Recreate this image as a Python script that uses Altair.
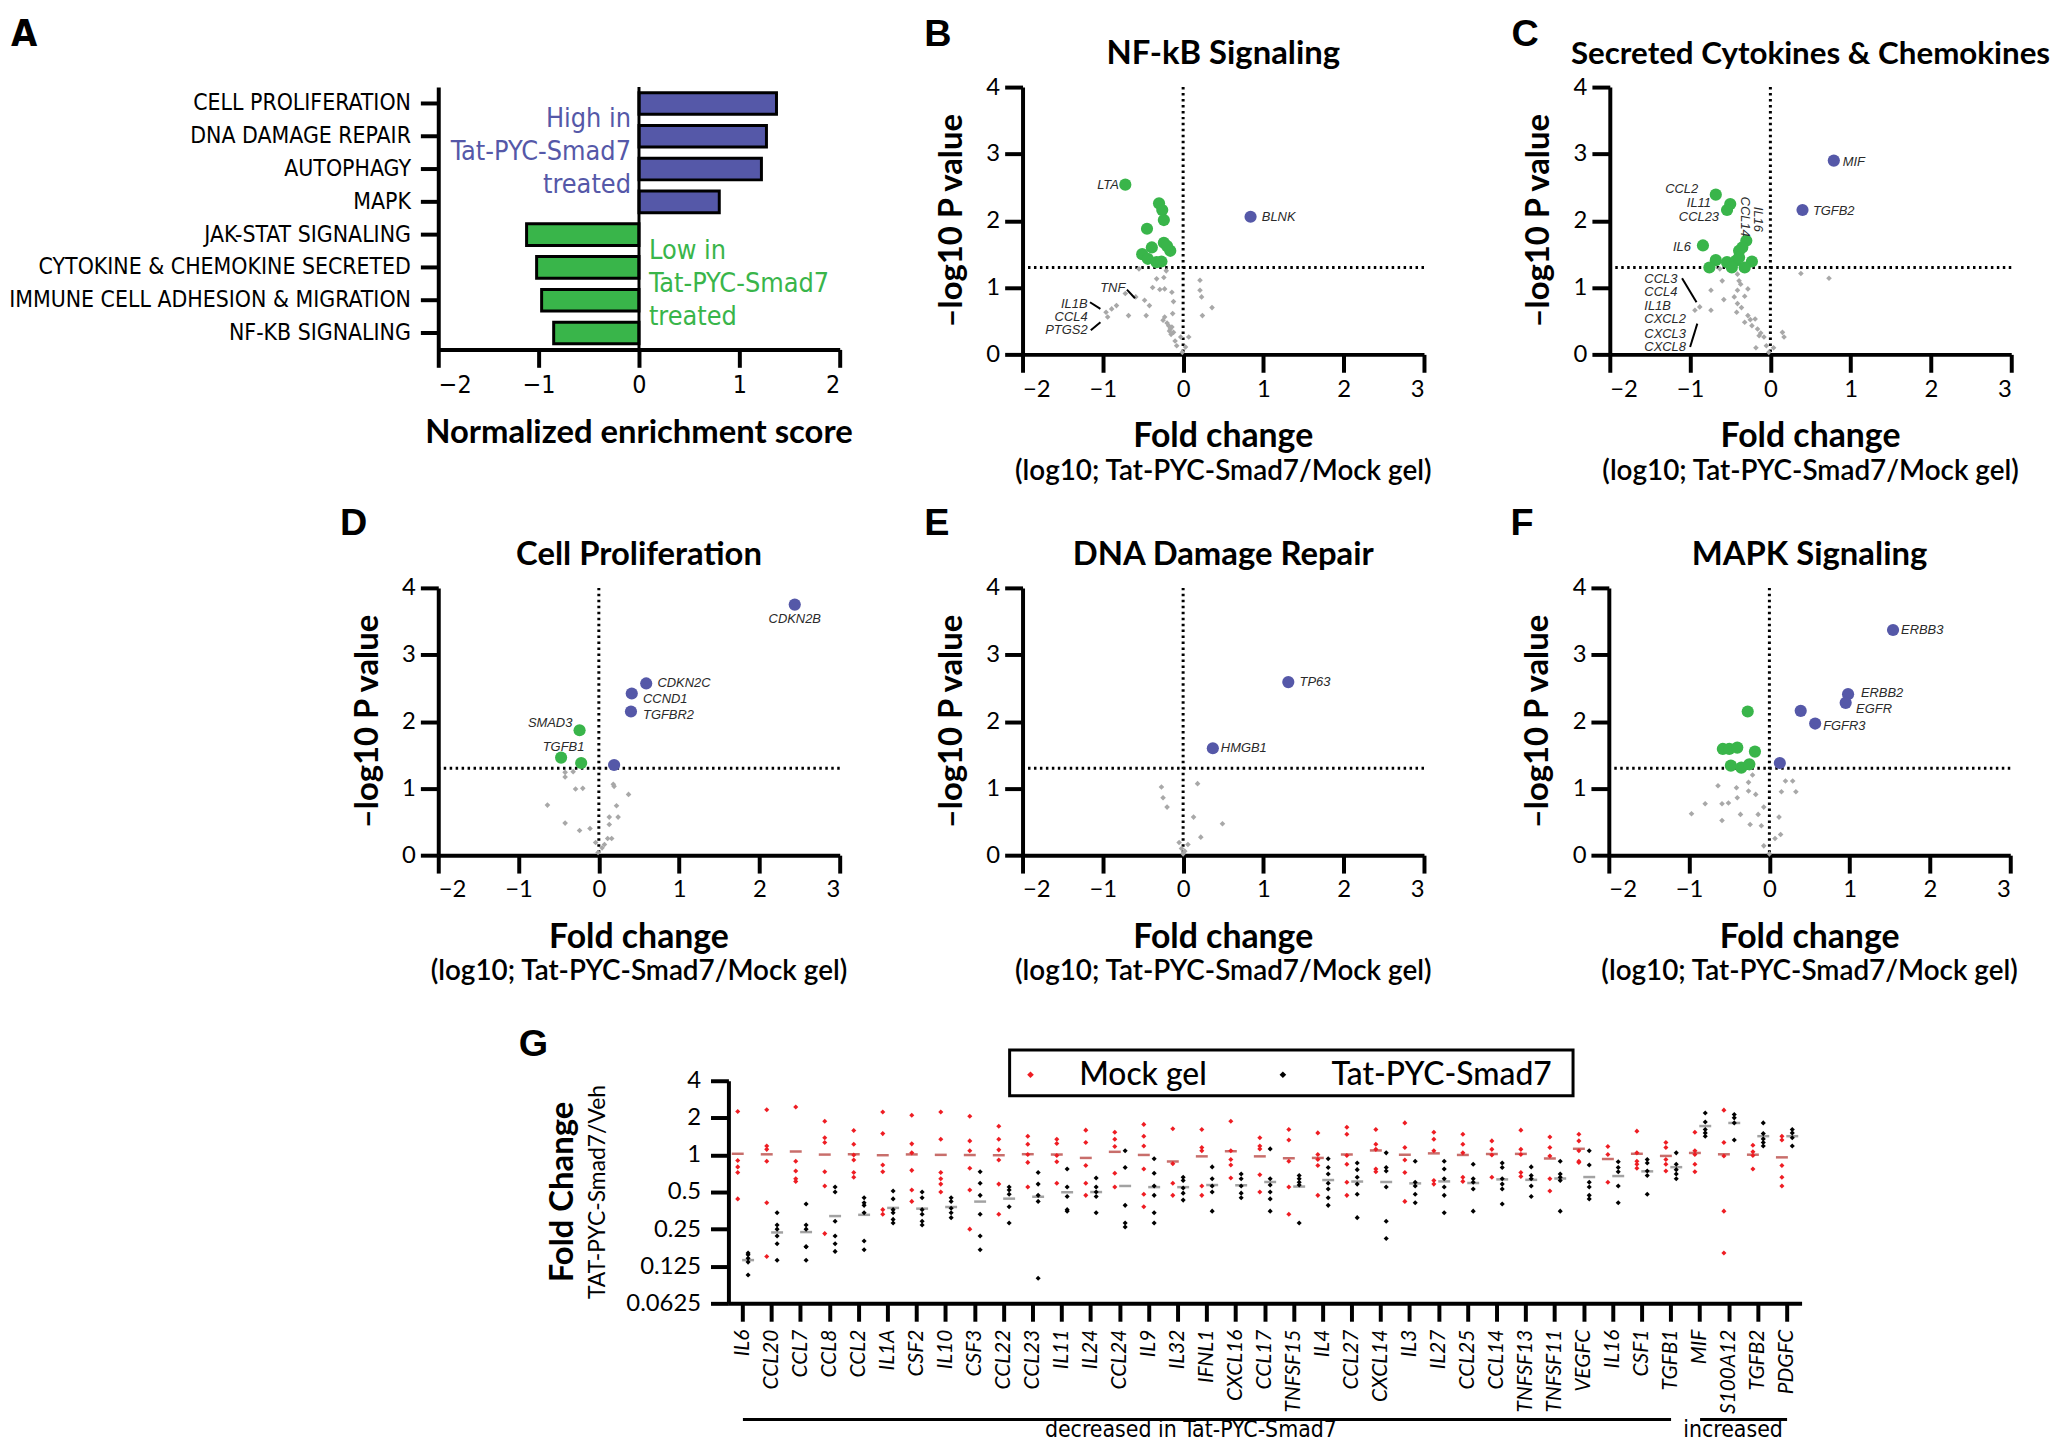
import altair as alt
import pandas as pd

FONT = "Lato"
NARROW = "Liberation Sans Narrow, Arial Narrow, DejaVu Sans Condensed, sans-serif"
ITAL = "Liberation Sans"
LETTER = "Liberation Sans"
BLUE = "#5558a8"
GREEN = "#39b54a"
GRAY = "#a8a8a8"
RED = "#ee1d23"

# ---------------- Panel A data ----------------
a_pathways = ["CELL PROLIFERATION", "DNA DAMAGE REPAIR", "AUTOPHAGY", "MAPK",
              "JAK-STAT SIGNALING", "CYTOKINE & CHEMOKINE SECRETED",
              "IMMUNE CELL ADHESION & MIGRATION", "NF-KB SIGNALING"]
a_nes = [1.37, 1.27, 1.22, 0.80, -1.12, -1.02, -0.97, -0.85]
a_direction = ["up", "up", "up", "up", "down", "down", "down", "down"]
a_ticks = [-2, -1, 0, 1, 2]
a_high_text = ["High in", "Tat-PYC-Smad7", "treated"]
a_high_rows = ["CELL PROLIFERATION", "DNA DAMAGE REPAIR", "AUTOPHAGY"]
a_low_text = ["Low in", "Tat-PYC-Smad7", "treated"]
a_low_rows = ["JAK-STAT SIGNALING", "CYTOKINE & CHEMOKINE SECRETED", "IMMUNE CELL ADHESION & MIGRATION"]

# ---------------- Volcano data (fold change log10, -log10 p) ----------------
vol_x_ticks = [-2, -1, 0, 1, 2, 3]
vol_y_ticks = [0, 1, 2, 3, 4]
sig_line = [1.3]
zero_line = [0]

b_gray = [(-0.55, 1.28), (-0.33, 1.13), (-0.24, 1.15), (-0.21, 1.25), (-0.38, 1.0), (-0.29, 0.97),
          (-0.23, 0.98), (-0.14, 0.93), (-0.72, 0.91), (-0.59, 0.86), (-0.48, 0.81), (-0.42, 0.73),
          (-0.46, 0.58), (-0.68, 0.58), (-0.83, 0.73), (-0.89, 0.68), (-0.96, 0.63), (-0.94, 0.56),
          (-0.12, 0.79), (-0.13, 0.61), (-0.23, 0.56), (-0.25, 0.51), (-0.18, 0.43), (-0.16, 0.38),
          (-0.12, 0.33), (-0.14, 0.41), (-0.03, 0.26), (0.07, 0.26), (-0.08, 0.13), (0.03, 0.11),
          (-0.01, 0.03), (0.21, 1.11), (0.21, 0.96), (0.23, 0.86), (0.36, 0.70), (0.24, 0.58),
          (-0.17, 0.35), (-0.15, 0.30), (-0.20, 0.47), (-0.10, 0.20)]
b_down = [(-0.72, 2.54), (-0.30, 2.26), (-0.26, 2.16), (-0.24, 2.01), (-0.45, 1.88), (-0.39, 1.60),
          (-0.24, 1.67), (-0.51, 1.50), (-0.16, 1.55), (-0.44, 1.43), (-0.33, 1.38), (-0.27, 1.39),
          (-0.20, 1.62)]
b_up = [(0.84, 2.06)]
b_labels = [("LTA", -0.80, 2.54, "right"), ("BLNK", 0.98, 2.05, "left"), ("TNF", -0.72, 1.0, "right"),
            ("IL1B", -1.19, 0.76, "right"), ("CCL4", -1.19, 0.56, "right"), ("PTGS2", -1.19, 0.36, "right")]
b_leaders = [(-0.70, 0.97, -0.60, 0.84), (-1.16, 0.78, -1.03, 0.68), (-1.15, 0.36, -1.03, 0.48)]

c_gray = [(0.38, 1.21), (0.73, 1.14), (-0.63, 1.28), (-0.41, 1.20), (-0.39, 1.10), (-0.60, 1.10),
          (-0.28, 0.98), (-0.41, 0.96), (-0.74, 0.96), (-0.45, 0.86), (-0.32, 0.87), (-0.58, 0.82),
          (-0.41, 0.76), (-0.94, 0.66), (-0.88, 0.71), (-0.74, 0.66), (-0.42, 0.63), (-0.28, 0.58),
          (-0.19, 0.53), (-0.32, 0.48), (-0.23, 0.43), (-0.16, 0.38), (-0.14, 0.28), (-0.08, 0.26),
          (0.15, 0.33), (0.17, 0.26), (-0.18, 0.10), (-0.05, 0.13), (0.04, 0.10), (-0.02, 0.03),
          (-0.37, 1.05), (-0.36, 0.70), (-0.25, 0.52), (-0.12, 0.32)]
c_down = [(-0.68, 2.39), (-0.50, 2.25), (-0.54, 2.16), (-0.84, 1.63), (-0.30, 1.70), (-0.39, 1.55),
          (-0.68, 1.41), (-0.54, 1.38), (-0.43, 1.40), (-0.76, 1.30), (-0.23, 1.39), (-0.32, 1.30),
          (-0.39, 1.45), (-0.48, 1.30), (-0.35, 1.60)]
c_up = [(0.79, 2.90), (0.40, 2.16)]
c_labels = [("CCL2", -0.90, 2.47, "right"), ("IL11", -0.74, 2.26, "right"), ("CCL23", -0.64, 2.06, "right"),
            ("IL6", -0.99, 1.61, "right"), ("MIF", 0.90, 2.88, "left"), ("TGFB2", 0.53, 2.14, "left"),
            ("CCL3", -1.57, 1.13, "left"), ("CCL4", -1.57, 0.93, "left"), ("IL1B", -1.57, 0.73, "left"),
            ("CXCL2", -1.57, 0.53, "left"), ("CXCL3", -1.57, 0.31, "left"), ("CXCL8", -1.57, 0.11, "left"),
            ("CCL14", -0.32, 2.06, "vertical"), ("IL16", -0.15, 2.02, "vertical")]
c_leaders = [(-1.10, 1.14, -0.92, 0.78), (-0.91, 0.46, -1.00, 0.11)]

d_gray = [(-0.42, 1.24), (-0.32, 1.25), (-0.42, 1.17), (-0.29, 0.99), (-0.20, 1.0), (0.18, 1.06),
          (0.19, 1.03), (0.37, 0.91), (-0.64, 0.75), (0.22, 0.74), (0.13, 0.57), (0.24, 0.57),
          (-0.42, 0.48), (0.13, 0.46), (-0.24, 0.37), (-0.11, 0.40), (0.11, 0.25), (0.16, 0.25),
          (-0.04, 0.19), (0.07, 0.16), (0.04, 0.11), (-0.01, 0.04)]
d_down = [(-0.24, 1.87), (-0.47, 1.46), (-0.22, 1.38)]
d_up = [(2.44, 3.75), (0.59, 2.57), (0.41, 2.42), (0.40, 2.15), (0.19, 1.35)]
d_labels = [("CDKN2B", 2.44, 3.54, "center"), ("CDKN2C", 0.73, 2.57, "left"), ("CCND1", 0.55, 2.33, "left"),
            ("TGFBR2", 0.55, 2.10, "left"), ("SMAD3", -0.33, 1.98, "right"), ("TGFB1", -0.44, 1.62, "center")]

e_gray = [(-0.27, 1.02), (-0.25, 0.86), (-0.20, 0.72), (0.18, 1.07), (0.13, 0.57), (0.49, 0.47),
          (0.22, 0.27), (-0.05, 0.19), (0.06, 0.16), (-0.02, 0.10), (0.02, 0.06), (0.0, 0.02)]
e_down = []
e_up = [(1.31, 2.59), (0.37, 1.60)]
e_labels = [("TP63", 1.45, 2.59, "left"), ("HMGB1", 0.47, 1.61, "left")]

f_gray = [(-0.21, 1.20), (-0.26, 1.09), (-0.64, 1.04), (-0.41, 1.01), (-0.26, 0.96), (-0.17, 0.91),
          (-0.40, 0.86), (-0.80, 0.77), (-0.59, 0.77), (-0.51, 0.78), (-0.97, 0.62), (-0.36, 0.61),
          (-0.14, 0.61), (-0.59, 0.52), (-0.24, 0.46), (-0.10, 0.44), (-0.07, 0.72), (0.12, 0.57),
          (0.14, 0.31), (0.07, 0.25), (-0.07, 0.14), (0.0, 0.02), (0.20, 1.11), (0.29, 1.11),
          (0.15, 0.95), (0.33, 0.95)]
f_down = [(-0.27, 2.15), (-0.58, 1.59), (-0.50, 1.59), (-0.40, 1.61), (-0.18, 1.55), (-0.48, 1.34),
          (-0.35, 1.31), (-0.25, 1.36)]
f_up = [(1.54, 3.37), (0.98, 2.41), (0.95, 2.28), (0.39, 2.16), (0.57, 1.97), (0.13, 1.38)]
f_labels = [("ERBB3", 1.64, 3.37, "left"), ("ERBB2", 1.14, 2.42, "left"), ("EGFR", 1.08, 2.19, "left"),
            ("FGFR3", 0.67, 1.93, "left")]

# ---------------- Panel G data ----------------
g_cytokines = ["IL6", "CCL20", "CCL7", "CCL8", "CCL2", "IL1A", "CSF2", "IL10", "CSF3", "CCL22", "CCL23",
               "IL11", "IL24", "CCL24", "IL9", "IL32", "IFNL1", "CXCL16", "CCL17", "TNFSF15", "IL4",
               "CCL27", "CXCL14", "IL3", "IL27", "CCL25", "CCL14", "TNFSF13", "TNFSF11", "VEGFC", "IL16",
               "CSF1", "TGFB1", "MIF", "S100A12", "TGFB2", "PDGFC"]
g_groups = ["Mock gel", "Tat-PYC-Smad7"]
g_mock = [[2.25, 0.9, 0.8, 0.72, 0.44], [2.33, 1.18, 1.11, 0.89, 0.41, 0.15], [2.45, 0.89, 0.74, 0.64, 0.61],
          [1.88, 1.38, 1.26, 0.73, 0.56, 0.23], [1.58, 1.22, 1.0, 0.91, 0.72, 0.66],
          [2.23, 1.49, 0.83, 0.73, 0.36, 0.33], [2.1, 1.23, 1.04, 0.75, 0.52, 0.42],
          [2.23, 1.34, 0.72, 0.64, 0.58, 0.5], [2.06, 1.30, 1.08, 0.78, 0.52, 0.25],
          [1.71, 1.34, 1.1, 0.91, 0.58, 0.33], [1.42, 1.22, 1.01, 0.87, 0.55], [1.34, 1.24, 0.99, 0.88, 0.59],
          [1.59, 1.26, 0.82, 0.59, 0.47], [1.53, 1.34, 1.17, 0.71, 0.55], [1.77, 1.42, 1.18, 0.77, 0.48, 0.38],
          [1.63, 0.85, 0.59, 0.47], [1.61, 1.15, 1.08, 0.56, 0.47], [1.88, 1.08, 0.92, 0.83, 0.65],
          [1.38, 1.18, 1.12, 0.69, 0.5], [1.61, 1.32, 0.89, 0.55, 0.33], [1.51, 1.01, 0.92, 0.82, 0.47],
          [1.68, 1.47, 0.99, 0.84, 0.60, 0.47], [1.61, 1.22, 1.11, 0.77, 0.73], [1.82, 1.15, 0.91, 0.72, 0.42],
          [1.53, 1.34, 1.08, 0.62, 0.58], [1.47, 1.22, 1.04, 0.66, 0.61], [1.30, 1.11, 1.0, 0.66],
          [1.59, 1.11, 1.01, 0.72, 0.67], [1.40, 1.15, 0.98, 0.64, 0.51], [1.47, 1.30, 1.08, 0.89, 0.87],
          [1.17, 1.01, 0.60], [1.56, 1.04, 0.89, 0.84, 0.78], [1.26, 1.15, 0.92, 0.84, 0.74],
          [1.53, 1.08, 1.01, 0.84, 0.73], [2.31, 1.26, 0.98, 0.35, 0.16], [1.20, 1.06, 0.99, 0.77],
          [1.42, 1.32, 0.82, 0.66, 0.56]]
g_tat = [[0.16, 0.155, 0.145, 0.135, 0.106], [0.34, 0.27, 0.25, 0.22, 0.19, 0.14],
         [0.40, 0.27, 0.25, 0.18, 0.18, 0.14], [0.55, 0.50, 0.29, 0.22, 0.19, 0.165],
         [0.45, 0.41, 0.39, 0.34, 0.20, 0.17], [0.51, 0.44, 0.36, 0.34, 0.30, 0.28],
         [0.50, 0.45, 0.36, 0.33, 0.29, 0.27], [0.45, 0.42, 0.37, 0.34, 0.31],
         [0.73, 0.59, 0.47, 0.33, 0.22, 0.17], [0.55, 0.52, 0.48, 0.38, 0.28], [0.72, 0.58, 0.47, 0.42, 0.10],
         [0.77, 0.55, 0.46, 0.36, 0.35], [0.65, 0.55, 0.50, 0.46, 0.34], [1.08, 0.79, 0.39, 0.28, 0.26],
         [0.93, 0.71, 0.56, 0.47, 0.34, 0.28], [0.66, 0.62, 0.54, 0.49, 0.43], [0.80, 0.64, 0.56, 0.50, 0.35],
         [0.70, 0.64, 0.56, 0.49, 0.45], [1.12, 0.64, 0.57, 0.50, 0.44, 0.35], [0.68, 0.64, 0.60, 0.57, 0.28],
         [0.93, 0.79, 0.70, 0.59, 0.53, 0.45, 0.39], [0.86, 0.76, 0.66, 0.58, 0.48, 0.31],
         [1.04, 0.79, 0.74, 0.55, 0.29, 0.21], [0.89, 0.60, 0.56, 0.48, 0.41],
         [0.89, 0.77, 0.64, 0.55, 0.47, 0.34], [0.84, 0.64, 0.60, 0.53, 0.35],
         [0.86, 0.79, 0.64, 0.58, 0.53, 0.40], [0.80, 0.68, 0.64, 0.56, 0.46], [0.89, 0.70, 0.66, 0.62, 0.35],
         [1.08, 0.83, 0.60, 0.55, 0.47, 0.44], [0.88, 0.79, 0.73, 0.56, 0.41], [0.92, 0.86, 0.74, 0.68, 0.48],
         [1.04, 0.84, 0.76, 0.70, 0.64], [2.19, 1.85, 1.61, 1.51, 1.42], [2.13, 2.0, 1.82, 1.32],
         [1.82, 1.49, 1.35, 1.26, 1.18], [1.61, 1.51, 1.38, 1.18]]
g_ticks = [0.0625, 0.125, 0.25, 0.5, 1, 2, 4]
g_bracket_start = ["IL6", "MIF"]
g_bracket_end = ["TGFB1", "PDGFC"]

# ---------------- helpers ----------------
VW, VH = 404, 269


def note(text, x, y, size, weight="normal", color="black", align="center", baseline="alphabetic",
         angle=0, font=FONT, style="normal"):
    kw = dict(fontSize=size, fontWeight=weight, color=color, align=align, baseline=baseline,
              font=font, fontStyle=style)
    if angle:
        kw["angle"] = angle
    return alt.Chart(pd.DataFrame({"label": [text]})).mark_text(**kw).encode(
        x=alt.value(x), y=alt.value(y), text="label:N")


def spacer(w, h=10):
    return alt.Chart(pd.DataFrame({"a": [0]})).mark_point(size=0, opacity=0).encode(
        x=alt.X("a:Q", axis=None), y=alt.Y("a:Q", axis=None)).properties(width=w, height=h)


AXIS_STYLE = dict(domainWidth=4, tickWidth=4, tickSize=18, domainColor="black", tickColor="black",
                  labelColor="black", grid=False)


def volcano(letter, title, gray, down, up, labels, leaders=None, title_size=33, letter_y=-41):
    X = alt.X("fc:Q", scale=alt.Scale(domain=[-2, 3], nice=False, zero=False),
              axis=alt.Axis(values=vol_x_ticks, title=None, labelFont=FONT, labelFontSize=24,
                            labelPadding=5, **AXIS_STYLE))
    Y = alt.Y("p:Q", scale=alt.Scale(domain=[0, 4], nice=False),
              axis=alt.Axis(values=vol_y_ticks, title=None, labelFont=FONT, labelFontSize=24,
                            labelPadding=5, **AXIS_STYLE))
    layers = [
        alt.Chart(pd.DataFrame({"fc": zero_line})).mark_rule(
            strokeDash=[2.5, 3.5], strokeWidth=3, color="black").encode(x=X),
        alt.Chart(pd.DataFrame({"p": sig_line})).mark_rule(
            strokeDash=[2.5, 3.5], strokeWidth=3, color="black").encode(y=Y),
        alt.Chart(pd.DataFrame(gray, columns=["fc", "p"])).mark_point(
            shape="diamond", filled=True, size=32, color=GRAY, opacity=1).encode(x=X, y=Y),
    ]
    sig = pd.DataFrame(down + up, columns=["fc", "p"])
    sig["cls"] = ["down"] * len(down) + ["up"] * len(up)
    layers.append(alt.Chart(sig).mark_circle(size=150, opacity=1).encode(
        x=X, y=Y, color=alt.Color("cls:N", scale=alt.Scale(domain=["down", "up"], range=[GREEN, BLUE]),
                                  legend=None)))
    if leaders:
        ld = pd.DataFrame(leaders, columns=["fc", "p", "fc2", "p2"])
        layers.append(alt.Chart(ld).mark_rule(strokeWidth=2, color="black").encode(
            x=X, y=Y, x2=alt.X2("fc2"), y2=alt.Y2("p2")))
    lab = pd.DataFrame(labels, columns=["gene", "fc", "p", "anchor"])
    for anchor, align, angle in [("left", "left", 0), ("right", "right", 0),
                                 ("center", "center", 0), ("vertical", "center", 90)]:
        sub = lab[lab["anchor"] == anchor]
        if len(sub) == 0:
            continue
        kw = dict(align=align, baseline="middle", font=ITAL, fontStyle="italic", fontSize=13, color="#2a2a2a")
        if angle:
            kw["angle"] = angle
        layers.append(alt.Chart(sub).mark_text(**kw).encode(x=X, y=Y, text="gene:N"))
    layers += [
        note(letter, -99, letter_y, 38, "bold", align="left", font=LETTER),
        note(title, VW / 2, -23, title_size, "bold"),
        note("\u2013log10 P value", -71, VH / 2, 33, "bold", angle=270, baseline="middle"),
        note("Fold change", VW / 2, VH + 93, 34, "bold"),
        note("(log10; Tat-PYC-Smad7/Mock gel)", VW / 2, VH + 126, 28, 600),
    ]
    return alt.layer(*layers).properties(width=VW, height=VH)


# ---------------- Panel A ----------------
A_W, A_H = 404, 264
ax = alt.X("nes:Q", scale=alt.Scale(domain=[-2, 2], nice=False),
           axis=alt.Axis(values=a_ticks, title=None, labelFont=NARROW, labelFontSize=25, labelPadding=5,
                         **AXIS_STYLE))
ay = alt.Y("pathway:N", sort=a_pathways,
           scale=alt.Scale(domain=a_pathways, paddingInner=0.34, paddingOuter=0.17),
           axis=alt.Axis(title=None, labelFont=NARROW, labelFontSize=23, labelPadding=10, labelLimit=600,
                         **AXIS_STYLE))
a_df = pd.DataFrame({"pathway": a_pathways, "nes": a_nes, "direction": a_direction})
a_bars = alt.Chart(a_df).mark_bar(stroke="black", strokeWidth=3).encode(
    x=ax, y=ay, color=alt.Color("direction:N", scale=alt.Scale(domain=["up", "down"], range=[BLUE, GREEN]),
                                legend=None))
a_zero = alt.Chart(pd.DataFrame({"nes": zero_line})).mark_rule(color="black", strokeWidth=3).encode(x=ax)
a_high = alt.Chart(pd.DataFrame({"pathway": a_high_rows, "nes": [0, 0, 0], "t": a_high_text})).mark_text(
    align="right", baseline="middle", dx=-8, dy=16, font=NARROW, fontSize=27, color=BLUE).encode(
    x=ax, y=ay, text="t:N")
a_low = alt.Chart(pd.DataFrame({"pathway": a_low_rows, "nes": [0, 0, 0], "t": a_low_text})).mark_text(
    align="left", baseline="middle", dx=10, dy=17, font=NARROW, fontSize=27, color=GREEN).encode(
    x=ax, y=ay, text="t:N")
panel_a = alt.layer(
    a_bars, a_zero, a_high, a_low,
    note("A", -430, -41, 38, "bold", align="left", font=NARROW),
    note("Normalized enrichment score", A_W / 2, A_H + 94, 33, "bold"),
).properties(width=A_W, height=A_H)

# ---------------- Volcano panels ----------------
panel_b = volcano("B", "NF-kB Signaling", b_gray, b_down, b_up, b_labels, b_leaders)
panel_c = volcano("C", "Secreted Cytokines & Chemokines", c_gray, c_down, c_up, c_labels, c_leaders,
                  title_size=31.5)
panel_d = volcano("D", "Cell Proliferation", d_gray, d_down, d_up, d_labels, letter_y=-53)
panel_e = volcano("E", "DNA Damage Repair", e_gray, e_down, e_up, e_labels, letter_y=-53)
panel_f = volcano("F", "MAPK Signaling", f_gray, f_down, f_up, f_labels, letter_y=-53)

# ---------------- Panel G ----------------
GW, GH = 1080, 224
rows = []
for cyt, vals in zip(g_cytokines, g_mock):
    for v in vals:
        rows.append((cyt, g_groups[0], v))
for cyt, vals in zip(g_cytokines, g_tat):
    for v in vals:
        rows.append((cyt, g_groups[1], v))
g_df = pd.DataFrame(rows, columns=["cytokine", "group", "fold"])

gx = alt.X("cytokine:N", sort=g_cytokines,
           scale=alt.Scale(domain=g_cytokines, paddingInner=0, paddingOuter=0),
           axis=alt.Axis(title=None, labelAngle=270, labelFont=FONT, labelFontStyle="italic", labelFontSize=21,
                         labelPadding=8, **AXIS_STYLE))
gxo = alt.XOffset("group:N", scale=alt.Scale(domain=g_groups, paddingOuter=0.4))
gy = alt.Y("fold:Q", scale=alt.Scale(type="log", base=2, domain=[0.0625, 4], nice=False),
           axis=alt.Axis(values=g_ticks, format="~g", title=None, labelFont=FONT, labelFontSize=24,
                         labelPadding=10, **AXIS_STYLE))

g_points = alt.Chart(g_df).mark_point(shape="diamond", filled=True, size=26, opacity=1).encode(
    x=gx, xOffset=gxo, y=gy,
    color=alt.Color("group:N", scale=alt.Scale(domain=g_groups, range=[RED, "black"]),
                    legend=alt.Legend(orient="none", legendX=282, legendY=-28, direction="horizontal",
                                      title=None, symbolType="diamond", symbolSize=45, labelFont=FONT,
                                      labelFontSize=32, labelFontWeight=500, labelOffset=33, labelLimit=400,
                                      columnPadding=60, padding=6)))
g_mean_mock = alt.Chart(g_df).transform_filter(alt.datum.group == g_groups[0]).transform_aggregate(
    fold="mean(fold)", groupby=["cytokine", "group"]).mark_tick(
    orient="horizontal", size=12, thickness=2.5, color="#b0302c").encode(x=gx, xOffset=gxo, y=gy)
g_mean_tat = alt.Chart(g_df).transform_filter(alt.datum.group == g_groups[1]).transform_aggregate(
    fold="mean(fold)", groupby=["cytokine", "group"]).mark_tick(
    orient="horizontal", size=12, thickness=2.5, color="#7a7a7a").encode(x=gx, xOffset=gxo, y=gy)
g_brackets = alt.Chart(pd.DataFrame({"cytokine": g_bracket_start, "cytokine2": g_bracket_end})).mark_rule(
    strokeWidth=3, color="black").encode(x=gx, x2=alt.X2("cytokine2"), y=alt.value(GH + 117))
g_dec = alt.Chart(pd.DataFrame({"cytokine": ["IL32"], "t": ["decreased in Tat-PYC-Smad7"]})).mark_text(
    font=NARROW, fontSize=23, dx=13, baseline="alphabetic", color="black").encode(
    x=gx, y=alt.value(GH + 135), text="t:N")
g_inc = alt.Chart(pd.DataFrame({"cytokine": ["S100A12"], "t": ["increased"]})).mark_text(
    font=NARROW, fontSize=23, dx=4, baseline="alphabetic", color="black").encode(
    x=gx, y=alt.value(GH + 135), text="t:N")
g_box = alt.Chart(pd.DataFrame({"a": [0]})).mark_rect(fillOpacity=0, stroke="black", strokeWidth=3).encode(
    x=alt.value(283), x2=alt.value(850), y=alt.value(-31), y2=alt.value(15))

panel_g = alt.layer(
    g_mean_mock, g_mean_tat, g_points, g_brackets, g_dec, g_inc, g_box,
    note("G", -211, -25, 38, "bold", align="left", font=LETTER),
    note("Fold Change", -166, GH / 2, 33, "bold", angle=270, baseline="middle"),
    note("TAT-PYC-Smad7/Veh", -131, GH / 2, 23, angle=270, baseline="middle"),
).properties(width=GW, height=GH)


def indep(c):
    return c.resolve_scale(color="independent").resolve_legend(color="independent")


# ---------------- Layout (rows align on plot origins) ----------------
row1 = indep(alt.hconcat(indep(alt.hconcat(panel_a, panel_b, spacing=71)), panel_c, spacing=79))
row2 = indep(alt.hconcat(indep(alt.hconcat(panel_d, panel_e, spacing=76)), panel_f, spacing=78))
row3 = indep(alt.hconcat(spacer(52), panel_g, spacing=29))

chart = indep(alt.vconcat(indep(alt.vconcat(row1, row2, spacing=20)), row3, spacing=40)).properties(
    padding={"left": 0, "top": 4, "right": 0, "bottom": 0}
).configure_view(stroke=None).configure_axis(grid=False)

chart.save("out.html", embed_options={"renderer": "svg", "actions": False})
